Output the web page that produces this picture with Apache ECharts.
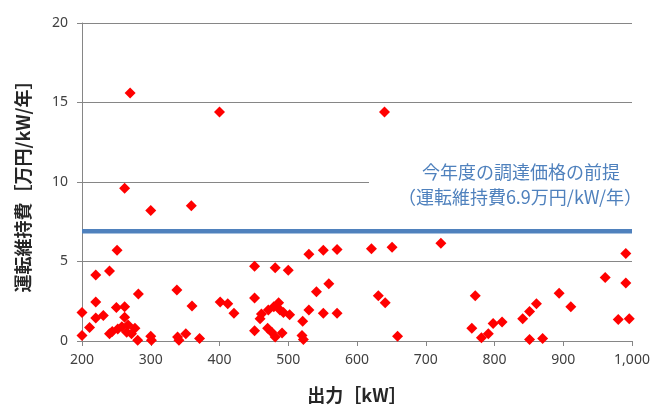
<!DOCTYPE html>
<html><head><meta charset="utf-8">
<script src="https://cdn.jsdelivr.net/npm/echarts@6/dist/echarts.min.js"></script>
<style>html,body{margin:0;padding:0;background:#fff}#c{width:654px;height:410px}</style>
</head><body><div id="c"></div>
<script>
var xValues = [270,400,640,262,300,359,
251,240,220,220,200,211,200,220,231,240,250,262,262,244,252,258,267,265,272,277,282,281,300,301,338,339,341,351,360,371,
401,412,421,451,451,451,459,461,470,471,476,481,481,479,486,488,491,493,500,502,521,520,522,530,530,541,551,551,559,571,571,
621,651,722,631,641,659,772,767,781,791,798,811,841,851,861,851,870,894,911,961,991,991,980,996];
var yValues = [15.6,14.4,14.4,9.6,8.2,8.5,
5.7,4.4,4.15,2.45,1.8,0.85,0.35,1.45,1.6,0.45,2.1,2.15,1.5,0.6,0.75,0.9,1.0,0.55,0.45,0.8,2.95,0.05,0.3,0.05,3.2,0.25,0.05,0.45,2.2,0.15,
2.45,2.35,1.75,4.7,2.7,0.65,1.4,1.7,0.8,1.95,0.55,4.6,0.25,2.15,2.4,1.95,0.5,1.8,4.45,1.65,1.25,0.35,0.1,5.45,1.95,3.1,5.7,1.75,3.6,5.75,1.75,
5.8,5.9,6.15,2.85,2.4,0.3,2.85,0.8,0.2,0.45,1.1,1.2,1.4,1.85,2.35,0.1,0.15,3.0,2.15,4.0,5.5,3.65,1.35,1.4];
var refX = [200, 1000];
var refY = [6.9, 6.9];
var xTicks = {min: 200, max: 1000, step: 100};
var yTicks = {min: 0, max: 20, step: 5};
var noteLines = ['今年度の調達価格の前提', '（運転維持費6.9万円/kW/年）'];
var xName = '出力［kW］';
var yName = '運転維持費［万円/kW/年］';

var pts = xValues.map(function(x, i){ return [x, yValues[i]]; });
var refPts = refX.map(function(x, i){ return [x, refY[i]]; });
var gray = '#868686';
var chart = echarts.init(document.getElementById('c'));
chart.setOption({
  animation: false,
  grid: {left: 82, right: 22, top: 23, bottom: 69},
  xAxis: {
    type: 'value', min: xTicks.min, max: xTicks.max, interval: xTicks.step,
    name: xName, nameLocation: 'middle', nameGap: 45,
    nameTextStyle: {fontFamily: 'Noto Sans CJK JP', fontWeight: 'bold', fontSize: 18, color: '#262626'},
    axisLine: {lineStyle: {color: gray, width: 1}},
    axisTick: {show: true, inside: false, length: 5, lineStyle: {color: gray}},
    splitLine: {show: false},
    axisLabel: {fontFamily: 'Noto Sans', fontSize: 14, color: '#404040', margin: 12,
      formatter: function(v){ return v.toLocaleString('en-US'); }}
  },
  yAxis: {
    type: 'value', min: yTicks.min, max: yTicks.max, interval: yTicks.step,
    name: yName, nameLocation: 'middle', nameGap: 50,
    nameTextStyle: {fontFamily: 'Noto Sans CJK JP', fontWeight: 'bold', fontSize: 18, color: '#262626'},
    axisLine: {show: true, lineStyle: {color: gray, width: 1}},
    axisTick: {show: true, inside: false, length: 5, lineStyle: {color: gray}},
    splitLine: {show: true, lineStyle: {color: gray, width: 1}},
    axisLabel: {fontFamily: 'Noto Sans', fontSize: 14, color: '#404040', margin: 14}
  },
  graphic: [
    {type: 'rect', z: 50, shape: {x: 369, y: 158, width: 285, height: 58}, style: {fill: '#fff'}},
    {type: 'text', z: 51, style: {
      x: 521, y: 172, text: noteLines[0], textAlign: 'center', textVerticalAlign: 'middle',
      fill: '#4f81bd', font: '18px "Noto Sans CJK JP"'}},
    {type: 'text', z: 51, style: {
      x: 520, y: 197, text: noteLines[1], textAlign: 'center', textVerticalAlign: 'middle',
      fill: '#4f81bd', font: '18px "Noto Sans CJK JP"'}}
  ],
  series: [
    {type: 'line', data: refPts, symbol: 'none', lineStyle: {color: '#4f81bd', width: 4.5}, z: 3, silent: true},
    {type: 'scatter', data: pts, symbol: 'diamond', symbolSize: [11, 11], itemStyle: {color: '#ff0000', opacity: 1}, z: 4}
  ]
});
</script></body></html>
